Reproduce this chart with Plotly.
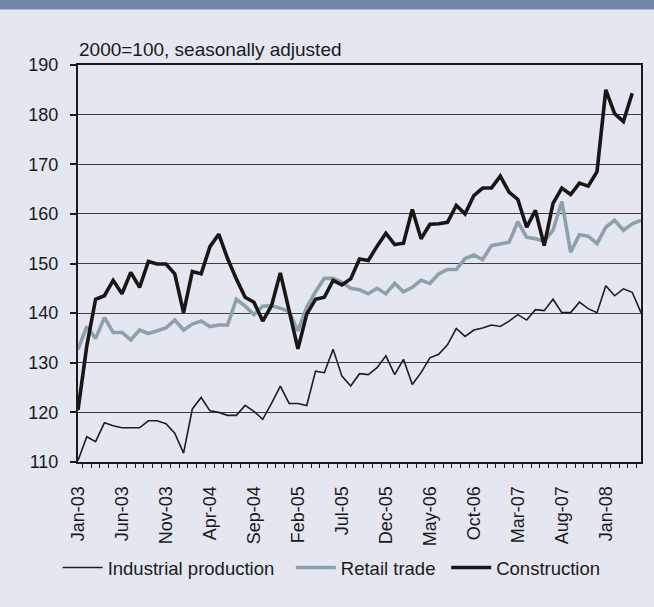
import plotly.graph_objects as go

months = [f"{m}-{y:02d}" for y in range(3, 9)
          for m in ["Jan", "Feb", "Mar", "Apr", "May", "Jun",
                    "Jul", "Aug", "Sep", "Oct", "Nov", "Dec"]][:65]

industrial = [110.3, 115.1, 114.1, 117.9, 117.3, 116.9, 116.9, 116.9, 118.3, 118.3,
              117.7, 115.8, 111.8, 120.7, 123.0, 120.3, 120.0, 119.4, 119.4, 121.4,
              120.2, 118.6, 121.8, 125.3, 121.8, 121.8, 121.4, 128.3, 128.0, 132.7,
              127.3, 125.3, 127.8, 127.6, 129.0, 131.4, 127.6, 130.7, 125.6, 128.0,
              131.0, 131.7, 133.6, 136.9, 135.3, 136.6, 137.0, 137.6, 137.3, 138.4,
              139.7, 138.6, 140.7, 140.5, 142.8, 140.1, 140.1, 142.2, 140.9, 140.1,
              145.5, 143.5, 144.9, 144.2, 140.1]

retail = [132.7, 137.3, 134.9, 139.1, 136.1, 136.1, 134.6, 136.6, 135.9, 136.4,
          137.0, 138.6, 136.6, 137.8, 138.4, 137.3, 137.6, 137.6, 142.8, 141.4,
          139.7, 141.4, 141.5, 141.0, 140.3, 136.4, 141.2, 144.3, 147.0, 147.0,
          146.2, 145.0, 144.7, 143.9, 145.0, 143.9, 146.0, 144.3, 145.2, 146.6,
          146.0, 147.9, 148.8, 148.8, 151.0, 151.7, 150.8, 153.6, 154.0, 154.3,
          158.4, 155.3, 155.0, 154.5, 156.7, 162.5, 152.3, 155.8, 155.5, 154.0,
          157.3, 158.7, 156.7, 158.0, 158.7]

construction = [120.5, 133.4, 142.8, 143.5, 146.6, 143.9, 148.2, 145.2, 150.4, 149.9,
                149.9, 147.9, 140.1, 148.4, 147.9, 153.4, 155.9, 151.0, 146.9, 143.2,
                142.2, 138.4, 141.5, 148.1, 140.5, 132.8, 139.8, 142.8, 143.2, 146.6,
                145.7, 146.9, 150.9, 150.6, 153.5, 156.1, 153.8, 154.1, 160.9, 155.0,
                157.9, 158.0, 158.3, 161.7, 160.0, 163.7, 165.2, 165.2, 167.6, 164.4,
                162.9, 157.3, 160.7, 153.6, 162.1, 165.2, 163.9, 166.2, 165.6, 168.5,
                185.0, 180.2, 178.6, 184.3, None]

tick_text = [m if i % 5 == 0 else "" for i, m in enumerate(months)]

BG = "#E4E7F0"
FONT = "Liberation Sans, Arial, sans-serif"

fig = go.Figure()

fig.add_trace(go.Scatter(x=months, y=industrial, mode="lines", name="Industrial production",
                         line=dict(color="#1e1e1e", width=1.6), legend="legend"))
fig.add_trace(go.Scatter(x=months, y=retail, mode="lines", name="Retail trade",
                         line=dict(color="#8EA0AA", width=3.6), legend="legend2"))
fig.add_trace(go.Scatter(x=months, y=construction, mode="lines", name="Construction",
                         line=dict(color="#1a1616", width=3.6), legend="legend3"))

# one legend per series so the spacing between entries can follow the original
leg = dict(orientation="h", y=-0.267, yanchor="middle",
           font=dict(size=18.5), itemwidth=40, bgcolor="rgba(0,0,0,0)")

fig.update_layout(
    width=654, height=607,
    paper_bgcolor=BG, plot_bgcolor=BG,
    margin=dict(l=78, r=11, t=65, b=145),
    font=dict(family=FONT, size=17, color="#1a1a1a"),
    showlegend=True,
    legend=dict(leg, x=0.161, xanchor="center"),
    legend2=dict(leg, x=0.378, xanchor="left"),
    legend3=dict(leg, x=0.654, xanchor="left"),
    shapes=[dict(type="rect", xref="paper", yref="paper",
                 x0=-0.2, x1=1.1, y0=1.14, y1=1.2, fillcolor="#7088A8", line_width=0,
                 layer="below")],
    annotations=[dict(text="2000=100, seasonally adjusted", xref="paper", yref="paper",
                      x=-0.002, y=1, xanchor="left", yanchor="bottom", yshift=3,
                      showarrow=False, font=dict(size=19))],
)

fig.update_xaxes(
    type="category", tickvals=months, ticktext=tick_text, tickson="boundaries",
    tickangle=-90, ticks="outside", ticklen=4, tickwidth=1.2, tickcolor="#1a1a1a",
    ticklabelstandoff=15,
    showline=True, linecolor="#1a1a1a", linewidth=2, mirror=True,
    showgrid=False, tickfont=dict(size=18),
)
fig.update_yaxes(
    range=[110, 190], dtick=10, ticks="outside", ticklen=6, tickwidth=1.5,
    tickcolor="#1a1a1a", showline=True, linecolor="#1a1a1a", linewidth=2, mirror=True,
    showgrid=True, gridcolor="#3c3c3c", gridwidth=1.3, zeroline=False,
    ticklabelstandoff=8, tickfont=dict(size=18),
)

fig.write_html("out.html", config={"displayModeBar": False},
               post_script="document.body.style.margin='0';")
